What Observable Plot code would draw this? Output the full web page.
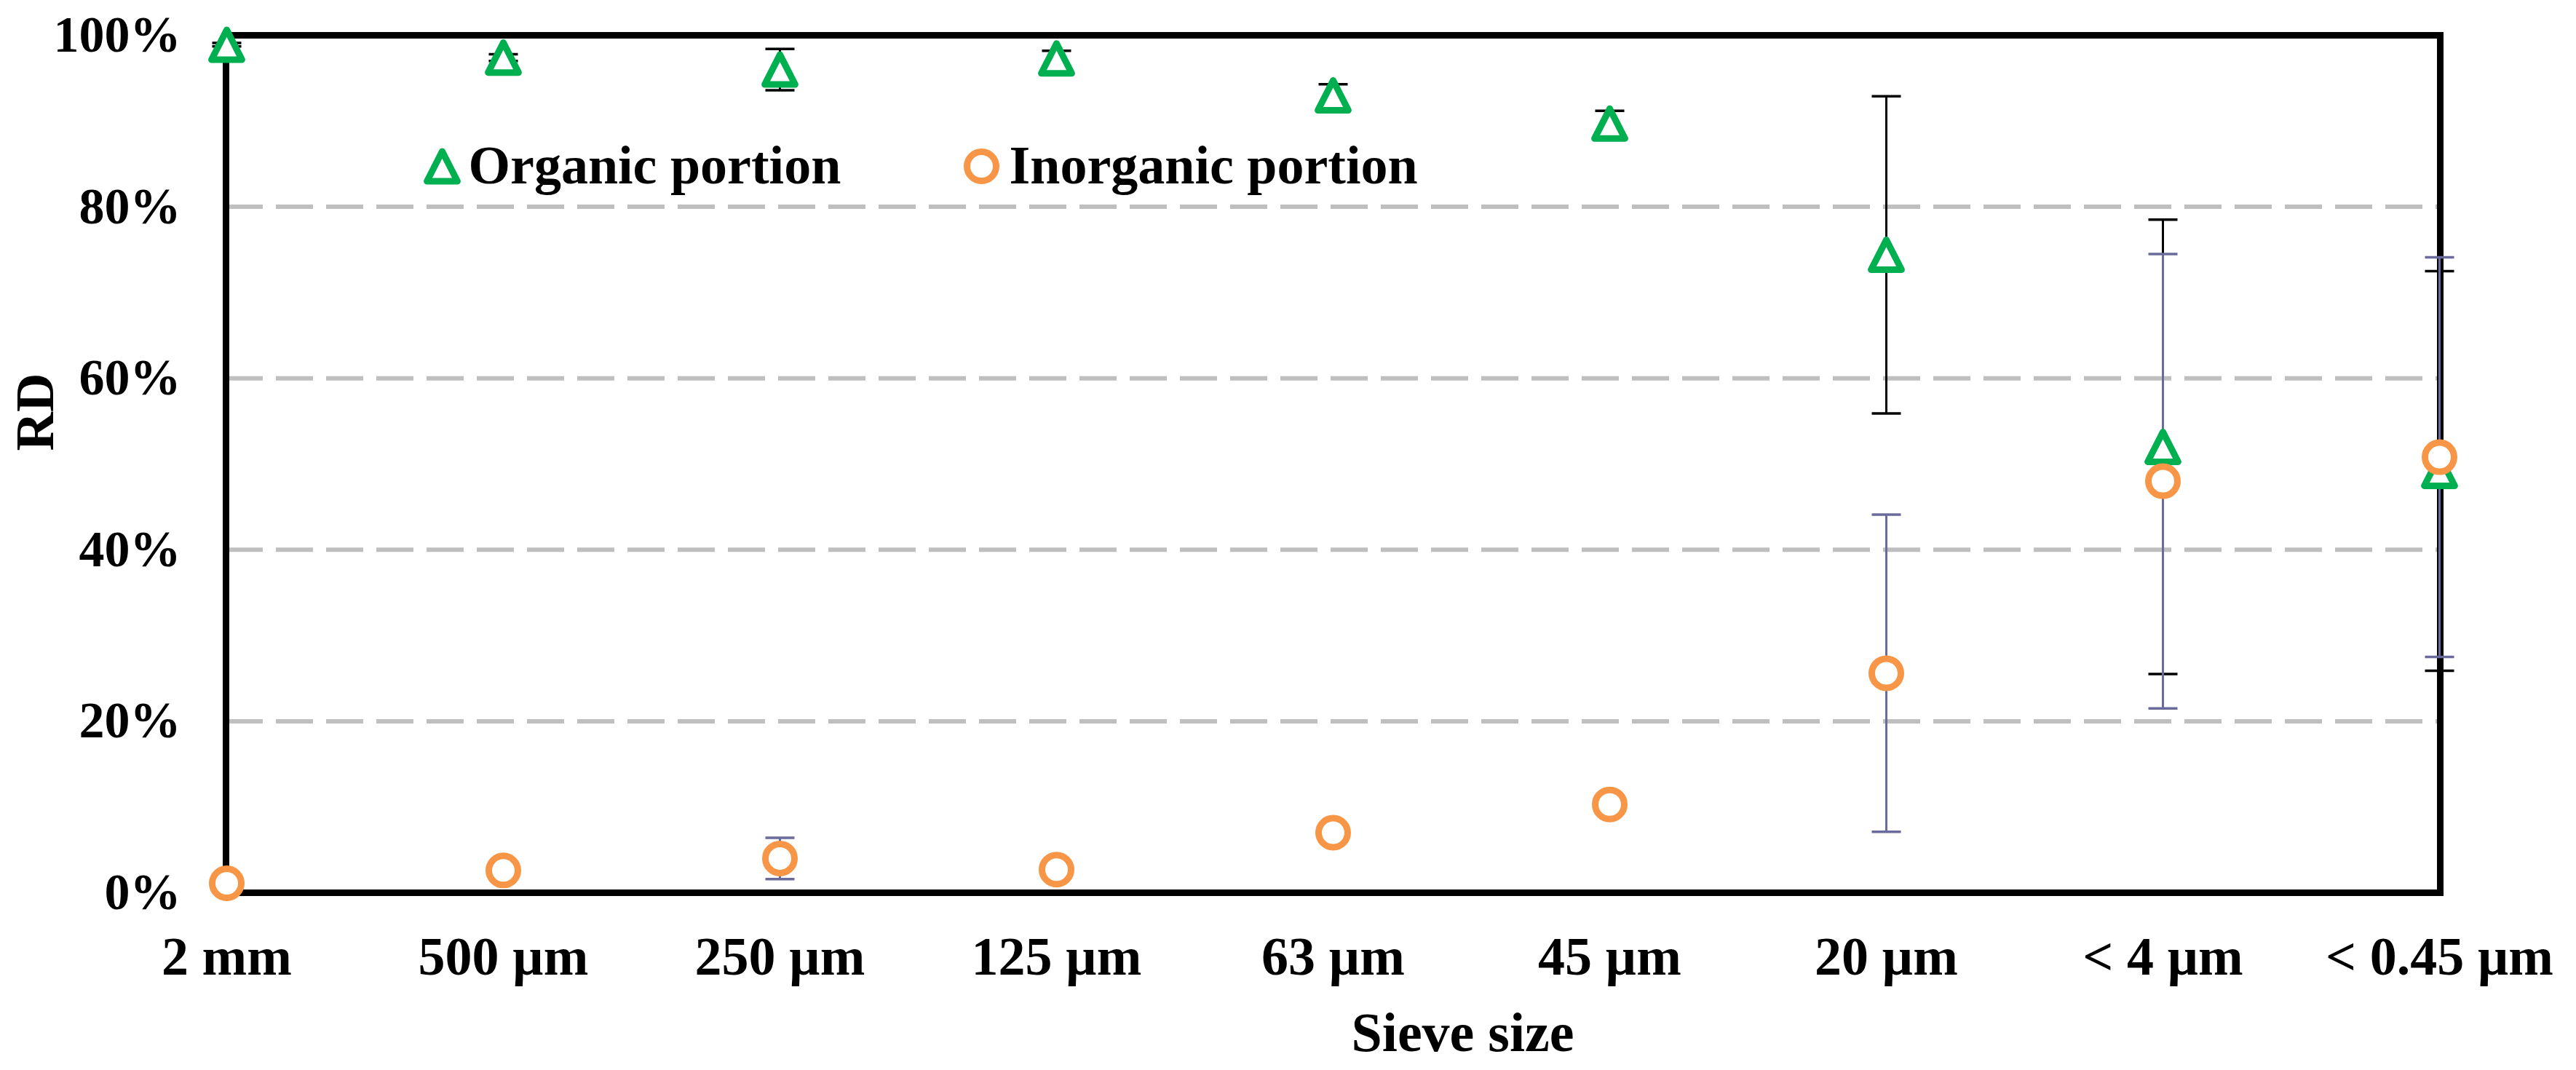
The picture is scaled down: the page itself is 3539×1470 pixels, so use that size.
<!DOCTYPE html>
<html>
<head>
<meta charset="utf-8">
<script src="https://cdn.jsdelivr.net/npm/d3@7"></script>
<script src="https://cdn.jsdelivr.net/npm/@observablehq/plot@0.6"></script>
<style>
  html, body { margin: 0; padding: 0; background: #fff; }
  #chart svg { display: block; }
</style>
</head>
<body>
<div id="chart"></div>
<script>
// ---- data ----
const sieveSizes = ["2 mm", "500 µm", "250 µm", "125 µm", "63 µm", "45 µm", "20 µm", "< 4 µm", "< 0.45 µm"];
const organicRD   = [0.989, 0.974, 0.960, 0.973, 0.930, 0.897, 0.744, 0.520, 0.492];
const organicSD   = [0.002, 0.004, 0.024, 0.009, 0.013, 0.015, 0.185, 0.265, 0.233];
const inorganicRD = [0.011, 0.026, 0.040, 0.027, 0.070, 0.103, 0.256, 0.480, 0.508];
const inorganicSD = [0.002, 0.004, 0.024, 0.009, 0.010, 0.010, 0.185, 0.265, 0.233];
const yTicks = [0, 0.2, 0.4, 0.6, 0.8, 1.0];
const gridValues = [0.2, 0.4, 0.6, 0.8];
const seriesNames = ["Organic portion", "Inorganic portion"];

const organic = sieveSizes.map((s, i) => ({size: s, v: organicRD[i], sd: organicSD[i]}));
const inorganic = sieveSizes.map((s, i) => ({size: s, v: inorganicRD[i], sd: inorganicSD[i]}));

// ---- styles ----
const GREEN = "#00B050", ORANGE = "#F79646", ERR_IN = "#6A6A9C";
const FONT = "'Liberation Serif', 'Times New Roman', serif";

const triSymbol = {
  draw(ctx, size) {
    const r = Math.sqrt(size / Math.PI);
    ctx.moveTo(0, -r);
    ctx.lineTo(r * 1.02, r);
    ctx.lineTo(-r * 1.02, r);
    ctx.closePath();
  }
};
const capSymbol = {
  draw(ctx, size) {
    const r = Math.sqrt(size / Math.PI);
    ctx.moveTo(-r, 0);
    ctx.lineTo(r, 0);
  }
};

function errorMarks(data, color) {
  return [
    Plot.ruleX(data, {x: "size", y1: d => d.v - d.sd, y2: d => d.v + d.sd, stroke: color, strokeWidth: 3}),
    Plot.dot(data, {x: "size", y: d => d.v + d.sd, symbol: capSymbol, r: 20, stroke: color, strokeWidth: 3.5, fill: "none"}),
    Plot.dot(data, {x: "size", y: d => d.v - d.sd, symbol: capSymbol, r: 20, stroke: color, strokeWidth: 3.5, fill: "none"})
  ];
}

const chart = Plot.plot({
  width: 3539,
  height: 1470,
  marginLeft: 310,
  marginRight: 187,
  marginTop: 48,
  marginBottom: 244,
  style: {fontFamily: FONT, fontWeight: "bold", background: "white", color: "black"},
  x: {type: "point", domain: sieveSizes, padding: 0},
  y: {domain: [0, 1]},
  marks: [
    Plot.ruleY(gridValues, {stroke: "#BFBFBF", strokeWidth: 6, strokeDasharray: "51,18"}),
    Plot.frame({stroke: "black", strokeWidth: 9}),
    Plot.axisY({ticks: yTicks, tickFormat: d3.format(".0%"), tickSize: 0, tickPadding: 62, fontSize: 70, label: null}),
    Plot.axisX({tickSize: 0, tickPadding: 60, fontSize: 74, label: null}),
    Plot.text(["Sieve size"], {frameAnchor: "bottom", lineAnchor: "middle", dx: 178, dy: 193, fontSize: 76}),
    Plot.text(["RD"], {frameAnchor: "left", lineAnchor: "middle", rotate: -90, dx: -261, dy: -18, fontSize: 74}),
    ...errorMarks(organic, "black"),
    ...errorMarks(inorganic, ERR_IN),
    Plot.dot(organic, {x: "size", y: "v", symbol: triSymbol, r: 20.5, stroke: GREEN, strokeWidth: 9, fill: "white", strokeLinejoin: "round"}),
    Plot.dot(inorganic, {x: "size", y: "v", symbol: "circle", r: 20, stroke: ORANGE, strokeWidth: 9, fill: "white"}),
    // legend
    Plot.dot([seriesNames[0]], {frameAnchor: "top-left", dx: 297, dy: 180, symbol: triSymbol, r: 20.5, stroke: GREEN, strokeWidth: 9, fill: "white", strokeLinejoin: "round"}),
    Plot.text([seriesNames[0]], {frameAnchor: "top-left", textAnchor: "start", lineAnchor: "middle", dx: 333, dy: 180, fontSize: 74}),
    Plot.dot([seriesNames[1]], {frameAnchor: "top-left", dx: 1038, dy: 180, symbol: "circle", r: 20, stroke: ORANGE, strokeWidth: 9, fill: "white"}),
    Plot.text([seriesNames[1]], {frameAnchor: "top-left", textAnchor: "start", lineAnchor: "middle", dx: 1076, dy: 180, fontSize: 74})
  ]
});
document.getElementById("chart").appendChild(chart);
</script>
</body>
</html>
